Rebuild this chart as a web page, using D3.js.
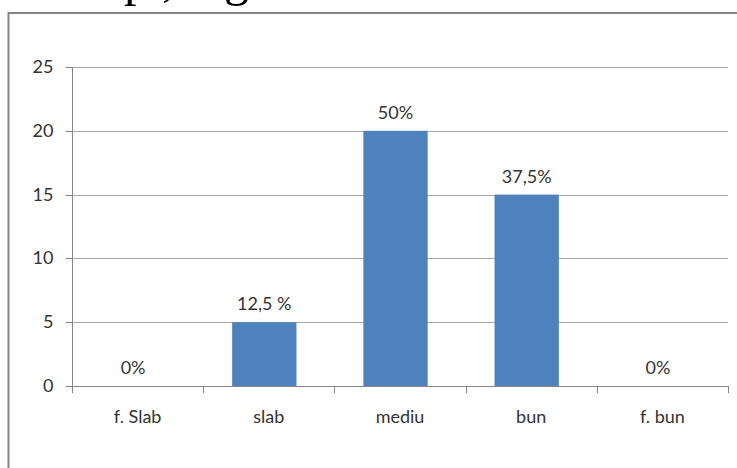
<!DOCTYPE html>
<html><head><meta charset="utf-8">
<script src="https://cdn.jsdelivr.net/npm/d3@7"></script>
<style>html,body{margin:0;padding:0;background:#fff;}svg{display:block;}</style>
</head><body>
<svg id="c" width="737" height="468"></svg>
<script>
const categories = ["f. Slab", "slab", "mediu", "bun", "f. bun"];
const values = [0, 5, 20, 15, 0];
const valueLabels = ["0%", "12,5 %", "50%", "37,5%", "0%"];
const yTicks = [0, 5, 10, 15, 20, 25];

(function () {
const svg = d3.select("#c");
const font = "Lato, 'Open Sans', sans-serif";
const textCol = "#333333";
const pLeft = 72, pRight = 728, pTop = 67, pBottom = 386;

// cut-off text above the frame (only descenders visible)
const topText = svg.append("text").attr("y", -5).attr("font-family", "'Liberation Serif', serif")
  .attr("font-size", 50).attr("fill", "#000");
topText.append("tspan").attr("x", 124).text("p");
topText.append("tspan").attr("x", 162).text(",");
topText.append("tspan").attr("x", 224).text("g");

// frame
svg.append("line").attr("x1", 8.5).attr("x2", 8.5).attr("y1", 12).attr("y2", 468).attr("stroke", "#858585").attr("stroke-width", 2);
svg.append("line").attr("x1", 8).attr("x2", 737).attr("y1", 13).attr("y2", 13).attr("stroke", "#858585").attr("stroke-width", 2);

const x = d3.scaleBand().domain(categories).range([pLeft, pRight]).padding(0);
const y = d3.scaleLinear().domain([0, 25]).range([pBottom, pTop]);

// gridlines
svg.append("g").selectAll("line").data(yTicks.filter(d => d > 0)).join("line")
  .attr("x1", pLeft).attr("x2", pRight)
  .attr("y1", d => Math.round(y(d)) + 0.5).attr("y2", d => Math.round(y(d)) + 0.5)
  .attr("stroke", "#a6a6a6").attr("stroke-width", 1);

// y axis
const ya = svg.append("g").attr("transform", `translate(${pLeft + 0.5},0.5)`)
  .call(d3.axisLeft(y).tickValues(yTicks).tickSize(7).tickPadding(12).tickFormat(d3.format("d")));
ya.select(".domain").attr("stroke", "#868686").attr("d", `M0,${pTop}V${pBottom}`);
ya.selectAll(".tick line").attr("stroke", "#868686");
ya.selectAll(".tick text").attr("font-family", font).attr("font-size", 18).attr("fill", textCol);
ya.selectAll(".tick").attr("transform", d => `translate(0,${Math.round(y(d))})`);

// bars
const barW = x.bandwidth() * 0.49;
const barShift = -4.5;
svg.append("g").selectAll("rect").data(categories).join("rect")
  .attr("x", (c) => x(c) + (x.bandwidth() - barW) / 2 + barShift)
  .attr("y", (c, i) => y(values[i]))
  .attr("width", barW)
  .attr("height", (c, i) => pBottom - y(values[i]))
  .attr("fill", "#4f81bd");

// x axis
const xa = svg.append("g").attr("transform", `translate(0,${pBottom + 0.5})`)
  .call(d3.axisBottom(x).tickSize(0).tickPadding(24));
xa.select(".domain").attr("stroke", "#868686").attr("d", `M${pLeft},0H${pRight}`);
xa.selectAll(".tick text").attr("font-family", font).attr("font-size", 18).attr("fill", textCol);
const bounds = categories.map(c => x(c)).concat([x.range()[1]]);
svg.append("g").selectAll("line").data(bounds).join("line")
  .attr("x1", d => Math.round(d) + 0.5).attr("x2", d => Math.round(d) + 0.5)
  .attr("y1", pBottom).attr("y2", pBottom + 7)
  .attr("stroke", "#868686");

// value labels
svg.append("g").selectAll("text").data(categories).join("text")
  .attr("x", c => x(c) + x.bandwidth() / 2 + barShift)
  .attr("y", (c, i) => y(values[i]) - 12)
  .attr("text-anchor", "middle")
  .attr("font-family", font).attr("font-size", 18).attr("fill", textCol)
  .text((c, i) => valueLabels[i]);
})();
</script>
</body></html>
